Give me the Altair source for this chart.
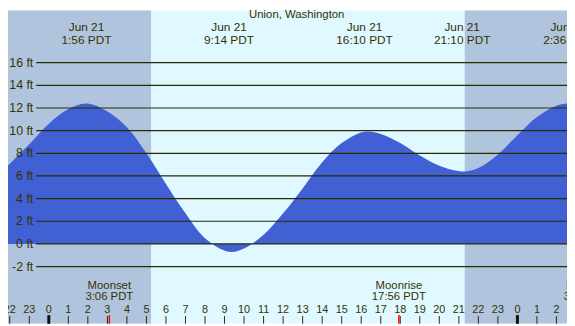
import altair as alt
import pandas as pd

# ---- data ----
tide_hours = [-2.1, -1, 0, 1, 1.93, 3, 4, 5, 6, 7, 8, 9.23, 10, 11, 12, 13, 14, 15,
              16.17, 17, 18, 19, 20, 21.17, 22, 23, 24, 25, 26, 26.6, 27]
tide_feet = [6.9, 8.8, 10.6, 11.9, 12.4, 11.7, 10.3, 8.0, 5.3, 2.7, 0.5, -0.7, -0.4, 0.8,
             2.7, 4.9, 7.2, 8.9, 9.9, 9.7, 8.9, 7.8, 6.9, 6.4, 6.7, 7.9, 9.6, 11.2, 12.2, 12.4, 12.3]

period_start = [-3, 5.25, 21.3]
period_end = [5.25, 21.3, 28]
period_kind = ["night", "day", "night"]

grid_feet = [-2, 0, 2, 4, 6, 8, 10, 12, 14, 16]
grid_labels = ["-2 ft", "0 ft", "2 ft", "4 ft", "6 ft", "8 ft", "10 ft", "12 ft", "14 ft", "16 ft"]

extreme_hours = [1.93, 9.23, 16.17, 21.17, 26.6]
extreme_dates = ["Jun 21"] * 5
extreme_times = ["1:56 PDT", "9:14 PDT", "16:10 PDT", "21:10 PDT", "2:36 PDT"]

moon_hours = [3.1, 17.93, 27.6]
moon_events = ["Moonset", "Moonrise", "Moonset"]
moon_times = ["3:06 PDT", "17:56 PDT", "3:36 PDT"]
moon_tick_hours = [3.1, 17.93]

hour_ticks = list(range(-2, 27))
hour_labels = [str(h % 24) for h in hour_ticks]
midnight_hours = [0, 24]

title_text = "Union, Washington"

# ---- layout ----
W, H = 567, 318
SY = H / 326.0
SX = W / 575.0
X_DOM = [-2.09, 26.54]
Y_DOM = [-7.05, 20.63]
TXT = "#333300"
FONT = "Liberation Sans"

xs = alt.Scale(domain=X_DOM, nice=False, zero=False)
ys = alt.Scale(domain=Y_DOM, nice=False, zero=False)
X = lambda f: alt.X(f, scale=xs, axis=None)
Y = lambda f: alt.Y(f, scale=ys, axis=None)

tide = pd.DataFrame({"h": tide_hours, "ft": tide_feet})
periods = pd.DataFrame({"s": period_start, "e": period_end, "k": period_kind})
grid = pd.DataFrame({"ft": grid_feet, "lab": grid_labels})
ext = pd.DataFrame({"h": extreme_hours, "d": extreme_dates, "t": extreme_times})
moon = pd.DataFrame({"h": moon_hours, "ev": moon_events, "t": moon_times})
mticks = pd.DataFrame({"h": moon_tick_hours})
hours = pd.DataFrame({"h": hour_ticks, "lab": hour_labels})
mid = pd.DataFrame({"h": midnight_hours})

bg = alt.Chart(periods).mark_rect(clip=True).encode(
    x=X("s:Q"), x2="e:Q", y=alt.value(0), y2=alt.value(H),
    color=alt.Color("k:N", scale=alt.Scale(domain=["night", "day"],
                                           range=["#B0C4DE", "#E0F8FF"]), legend=None),
)

area = alt.Chart(tide).mark_area(color="#4060D4", interpolate="catmull-rom", clip=True).encode(
    x=X("h:Q"), y=Y("ft:Q"), y2=alt.value(H)
)

gridlines = alt.Chart(grid).mark_rule(color="#2a2a00", strokeWidth=1.2).encode(
    y=Y("ft:Q"), x=alt.value(29 * SX), x2=alt.value(W)
)
gridlabs = alt.Chart(grid).mark_text(align="right", baseline="middle", font=FONT,
                                     fontSize=12.5, color=TXT, dx=-2).encode(
    y=Y("ft:Q"), x=alt.value(28 * SX), text="lab:N"
)

title = alt.Chart(pd.DataFrame({"t": [title_text]})).mark_text(
    font=FONT, fontSize=11.5, color=TXT, baseline="middle").encode(
    x=alt.value(297 * SX), y=alt.value(5), text="t:N")

ext_d = alt.Chart(ext).mark_text(font=FONT, fontSize=12, color=TXT, baseline="middle").encode(
    x=X("h:Q"), y=alt.value(17.5 * SY), text="d:N")
ext_t = alt.Chart(ext).mark_text(font=FONT, fontSize=12, color=TXT, baseline="middle").encode(
    x=X("h:Q"), y=alt.value(31.5 * SY), text="t:N")

moon_e = alt.Chart(moon).mark_text(font=FONT, fontSize=11.5, color=TXT, baseline="middle").encode(
    x=X("h:Q"), y=alt.value(286.5 * SY), text="ev:N")
moon_t = alt.Chart(moon).mark_text(font=FONT, fontSize=11.5, color=TXT, baseline="middle").encode(
    x=X("h:Q"), y=alt.value(298.5 * SY), text="t:N")

hour_txt = alt.Chart(hours).mark_text(font=FONT, fontSize=11, color=TXT, baseline="middle").encode(
    x=X("h:Q"), y=alt.value(311.5 * SY), text="lab:N")
hour_tk = alt.Chart(hours).mark_rule(color="#2a2a00", strokeWidth=1).encode(
    x=X("h:Q"), y=alt.value(318 * SY), y2=alt.value(H))
mid_tk = alt.Chart(mid).mark_rule(color="#111100", strokeWidth=3).encode(
    x=X("h:Q"), y=alt.value(317 * SY), y2=alt.value(H))
moon_tk = alt.Chart(mticks).mark_rule(color="#ff0000", strokeWidth=1.5).encode(
    x=X("h:Q"), y=alt.value(317 * SY), y2=alt.value(H))

chart = alt.layer(
    bg, area, gridlines, gridlabs, title, ext_d, ext_t, moon_e, moon_t,
    hour_txt, hour_tk, mid_tk, moon_tk
).properties(
    width=W, height=H, padding=0, autosize=alt.AutoSizeParams(type="none")
).configure_view(strokeWidth=0)

chart.save("out.html", embed_options={"renderer": "svg", "actions": False})
